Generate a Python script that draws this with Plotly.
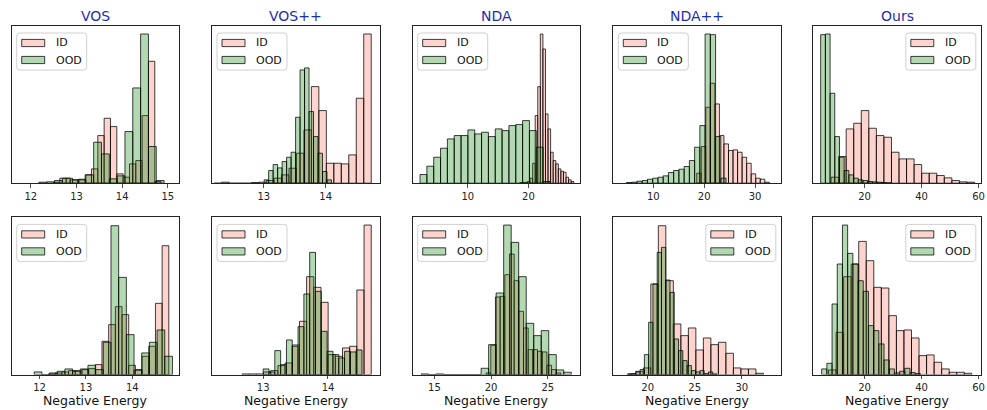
import numpy as np
import plotly.graph_objects as go

# ---------------- data (bin start, bin width, counts) ----------------
METHODS = ["VOS", "VOS++", "NDA", "NDA++", "Ours"]
SERIES = ["ID", "OOD"]
X_TITLE = "Negative Energy"

# top row
vos_top_id_bins = (12.496, 0.1387)
vos_top_id = [3, 15, 15, 10, 12, 25, 43, 143, 195, 170, 28, 18, 58, 68, 203, 366, 5]
vos_top_ood_bins = (12.175, 0.1715)
vos_top_ood = [3, 4, 8, 15, 10, 10, 25, 123, 88, 13, 22, 155, 286, 448, 110, 8]

vospp_top_id_bins = (12.196, 0.121)
vospp_top_id = [0, 3, 0, 0, 0, 2, 3, 8, 15, 25, 45, 90, 160, 290, 218, 60, 60, 58, 85, 255, 448]
vospp_top_ood_bins = (13.005, 0.0726)
vospp_top_ood = [10, 38, 56, 46, 65, 78, 93, 198, 340, 346, 215, 140, 90, 35, 10]

nda_top_id_bins = (18.571, 0.423)
nda_top_id = [2, 2, 3, 5, 15, 60, 203, 290, 448, 403, 208, 163, 93, 68, 58, 43, 36, 33, 18, 10, 5]
nda_top_ood_bins = (2.143, 1.126)
nda_top_ood = [26, 51, 78, 105, 133, 143, 143, 160, 148, 153, 140, 163, 158, 173, 176, 188, 158, 108, 5]

ndapp_top_id_bins = (18.525, 0.892)
ndapp_top_id = [30, 110, 228, 300, 238, 143, 118, 98, 100, 93, 78, 60, 28, 15, 12, 3]
ndapp_top_ood_bins = (4.721, 1.03)
ndapp_top_ood = [2, 3, 6, 8, 12, 15, 18, 22, 32, 38, 42, 50, 68, 108, 173, 448, 446, 140, 15]

ours_top_id_bins = (8.24, 2.65)
ours_top_id = [18, 80, 163, 180, 218, 165, 143, 138, 93, 73, 73, 56, 30, 30, 23, 16, 8, 4, 3]
ours_top_ood_bins = (4.59, 1.65)
ours_top_ood = [446, 448, 270, 140, 78, 38, 25, 15, 10, 8, 5, 4, 3, 2, 1]

# bottom row
vos_bot_id_bins = (12.194, 0.144)
vos_bot_id = [2, 5, 8, 12, 12, 15, 18, 30, 100, 150, 204, 180, 28, 15, 55, 85, 214, 387]
vos_bot_ood_bins = (11.885, 0.1655)
vos_bot_ood = [8, 0, 5, 10, 17, 10, 17, 28, 15, 97, 447, 292, 120, 13, 65, 97, 134, 55]

vospp_bot_id_bins = (12.673, 0.1108)
vospp_bot_id = [2, 2, 2, 8, 12, 27, 35, 89, 160, 294, 262, 217, 60, 55, 80, 85, 254, 449]
vospp_bot_ood_bins = (13.0, 0.0897)
vospp_bot_ood = [17, 8, 72, 30, 104, 85, 144, 242, 367, 250, 130, 70, 60, 50, 70, 68, 74]

nda_bot_id_bins = (19.559, 0.412)
nda_bot_id = [5, 88, 233, 235, 300, 362, 282, 190, 140, 75, 75, 70, 68, 28, 15, 5]
nda_bot_ood_bins = (13.824, 0.662)
nda_bot_ood = [2, 0, 2, 0, 0, 0, 0, 0, 19, 90, 245, 449, 397, 294, 154, 117, 132, 60, 14, 7]

ndapp_bot_id_bins = (17.943, 0.798)
ndapp_bot_id = [2, 10, 20, 272, 447, 282, 152, 117, 140, 74, 110, 90, 97, 64, 20, 17, 17, 4]
ndapp_bot_ood_bins = (17.837, 0.454)
ndapp_bot_ood = [2, 3, 8, 15, 60, 157, 272, 367, 382, 284, 247, 107, 72, 42, 27, 12, 8, 12, 3, 8, 2]

ours_bot_id_bins = (7.353, 2.647)
ours_bot_id = [14, 127, 294, 332, 400, 342, 262, 260, 177, 132, 134, 110, 57, 59, 37, 17, 7, 7, 4]
ours_bot_ood_bins = (4.94, 1.824)
ours_bot_ood = [17, 34, 212, 332, 449, 364, 332, 282, 250, 147, 132, 92, 44, 17, 5, 10, 19, 6, 3]

# x-axis ranges and tick values
x_ranges = [
    [11.58, 15.25], [12.161, 14.871], [0.934, 28.52], [2.13, 35.05], [2.0, 60.8],
    [11.40, 15.01], [12.21, 14.795], [13.09, 27.85], [16.35, 34.15], [2.0, 60.8],
]
x_ticks = [
    [12, 13, 14, 15], [13, 14], [10, 20], [10, 20, 30], [20, 40, 60],
    [12, 13, 14], [13, 14], [15, 20, 25], [20, 25, 30], [20, 40, 60],
]
legend_right = [False, False, False, False, True, False, False, False, True, True]
Y_MAX = 472

panels = [
    (vos_top_id_bins, vos_top_id, vos_top_ood_bins, vos_top_ood),
    (vospp_top_id_bins, vospp_top_id, vospp_top_ood_bins, vospp_top_ood),
    (nda_top_id_bins, nda_top_id, nda_top_ood_bins, nda_top_ood),
    (ndapp_top_id_bins, ndapp_top_id, ndapp_top_ood_bins, ndapp_top_ood),
    (ours_top_id_bins, ours_top_id, ours_top_ood_bins, ours_top_ood),
    (vos_bot_id_bins, vos_bot_id, vos_bot_ood_bins, vos_bot_ood),
    (vospp_bot_id_bins, vospp_bot_id, vospp_bot_ood_bins, vospp_bot_ood),
    (nda_bot_id_bins, nda_bot_id, nda_bot_ood_bins, nda_bot_ood),
    (ndapp_bot_id_bins, ndapp_bot_id, ndapp_bot_ood_bins, ndapp_bot_ood),
    (ours_bot_id_bins, ours_bot_id, ours_bot_ood_bins, ours_bot_ood),
]

# ---------------- styling / layout ----------------
W, H = 987, 410
FONT = "DejaVu Sans"
FILLS = {"ID": "rgba(250,128,114,0.35)", "OOD": "rgba(0,128,0,0.30)"}
EDGE = "rgba(0,0,0,0.75)"

col_left = [11.7, 212.0, 412.7, 613.3, 813.3]
col_w = 167.5
row_top = [26.0, 217.4]
row_h = 157.2


def px(x):
    return x / W


def py(y):
    return 1 - y / H


def rounded_rect(x0, y0, x1, y1, r=3):
    pts = [
        f"M{px(x0 + r)},{py(y0)}", f"L{px(x1 - r)},{py(y0)}",
        f"Q{px(x1)},{py(y0)} {px(x1)},{py(y0 + r)}", f"L{px(x1)},{py(y1 - r)}",
        f"Q{px(x1)},{py(y1)} {px(x1 - r)},{py(y1)}", f"L{px(x0 + r)},{py(y1)}",
        f"Q{px(x0)},{py(y1)} {px(x0)},{py(y1 - r)}", f"L{px(x0)},{py(y0 + r)}",
        f"Q{px(x0)},{py(y0)} {px(x0 + r)},{py(y0)}", "Z",
    ]
    return " ".join(pts)


fig = go.Figure()
layout = dict(
    width=W, height=H, margin=dict(l=0, r=0, t=0, b=0, autoexpand=False),
    paper_bgcolor="white", plot_bgcolor="white", showlegend=False,
    barmode="overlay", font=dict(family=FONT, size=10, color="#222"),
    annotations=[], shapes=[],
)

for i, (idb, idc, oodb, oodc) in enumerate(panels):
    r, c = divmod(i, 5)
    n = i + 1
    xa = "x" if n == 1 else f"x{n}"
    ya = "y" if n == 1 else f"y{n}"

    for name, (start, width), counts in (("ID", idb, idc), ("OOD", oodb, oodc)):
        centers = start + width * (np.arange(len(counts)) + 0.5)
        fig.add_trace(go.Bar(
            x=centers, y=counts, width=width, name=name,
            marker=dict(color=FILLS[name], line=dict(color=EDGE, width=1)),
            xaxis=xa, yaxis=ya, hoverinfo="skip",
        ))

    left = col_left[c]
    top = row_top[r]
    axkey = "xaxis" if n == 1 else f"xaxis{n}"
    aykey = "yaxis" if n == 1 else f"yaxis{n}"
    layout[axkey] = dict(
        domain=[px(left), px(left + col_w)], anchor=ya, range=x_ranges[i],
        tickvals=x_ticks[i], ticktext=[str(t) for t in x_ticks[i]],
        ticks="outside", ticklen=3.5, tickwidth=0.8, tickcolor="#222",
        showline=True, mirror=True, linecolor="#222", linewidth=1,
        showgrid=False, zeroline=False, automargin=False,
        tickfont=dict(size=10, color="#222"),
    )
    layout[aykey] = dict(
        domain=[py(top + row_h), py(top)], anchor=xa, range=[0, Y_MAX],
        showticklabels=False, ticks="", showline=True, mirror=True,
        linecolor="#222", linewidth=1, showgrid=False, zeroline=False,
        automargin=False,
    )

    # legend box (matplotlib-like)
    lw, lh = 70, 37
    bx0 = left + col_w - 5 - lw if legend_right[i] else left + 5
    by0 = top + 7
    layout["shapes"].append(dict(
        type="path", path=rounded_rect(bx0, by0, bx0 + lw, by0 + lh),
        xref="paper", yref="paper", fillcolor="rgba(255,255,255,0.8)",
        line=dict(color="#d0d0d0", width=1), layer="above",
    ))
    for k, name in enumerate(SERIES):
        cy = by0 + 10 + 17 * k
        layout["shapes"].append(dict(
            type="rect", xref="paper", yref="paper",
            x0=px(bx0 + 5), x1=px(bx0 + 28), y0=py(cy + 3.6), y1=py(cy - 3.6),
            fillcolor=FILLS[name], line=dict(color=EDGE, width=1), layer="above",
        ))
        layout["annotations"].append(dict(
            text=name, xref="paper", yref="paper", x=px(bx0 + 37), y=py(cy),
            xanchor="left", yanchor="middle", showarrow=False,
            font=dict(size=11, color="#111", family=FONT),
        ))

    if r == 0:
        layout["annotations"].append(dict(
            text=METHODS[c], xref="paper", yref="paper",
            x=px(left + col_w / 2), y=py(15.5),
            xanchor="center", yanchor="middle", showarrow=False,
            font=dict(size=14, color="#1f2db0", family=FONT),
        ))
    else:
        layout["annotations"].append(dict(
            text=X_TITLE, xref="paper", yref="paper",
            x=px(left + col_w / 2), y=py(400),
            xanchor="center", yanchor="middle", showarrow=False,
            font=dict(size=12.5, color="#111", family=FONT),
        ))

fig.update_layout(**layout)
fig.write_html(
    "out.html",
    config={"displayModeBar": False, "staticPlot": True},
    post_script="document.body.style.margin='0px';document.body.style.overflow='hidden';",
)
